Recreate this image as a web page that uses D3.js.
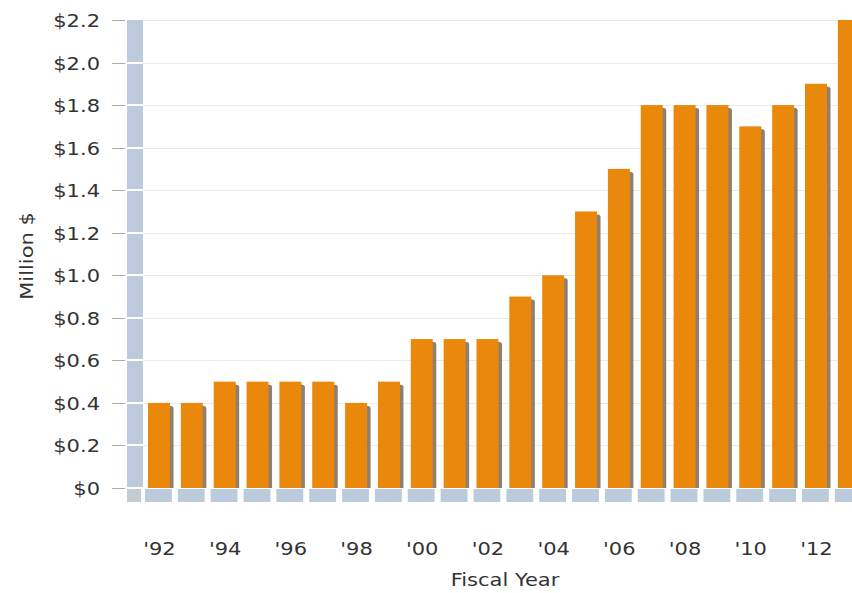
<!DOCTYPE html>
<html>
<head>
<meta charset="utf-8">
<script src="https://cdn.jsdelivr.net/npm/d3@7"></script>
<style>
  html, body { margin: 0; padding: 0; background: #fff; }
  svg { display: block; }
  text { font-family: "DejaVu Sans", Verdana, sans-serif; fill: #333; }
</style>
</head>
<body>
<svg id="chart" width="852" height="593"></svg>
<script>
const years = ["92","93","94","95","96","97","98","99","00","01","02","03","04","05","06","07","08","09","10","11","12","13"];
const values = [0.4,0.4,0.5,0.5,0.5,0.5,0.4,0.5,0.7,0.7,0.7,0.9,1.0,1.3,1.5,1.8,1.8,1.8,1.7,1.8,1.9,2.2];
const yTicks = [0,0.2,0.4,0.6,0.8,1.0,1.2,1.4,1.6,1.8,2.0,2.2];
const xTickYears = ["92","94","96","98","00","02","04","06","08","10","12"];
const yTitle = "Million $";
const xTitle = "Fiscal Year";

const W = 852, H = 593;
const svg = d3.select("#chart");
const plotLeft = 143, plotTop = 20, plotBottom = 488;
const step = 32.85;

const y = d3.scaleLinear().domain([0, 2.2]).range([plotBottom, plotTop]);
const x = d3.scaleBand().domain(years).range([plotLeft, plotLeft + step * years.length]).padding(0);
const bw = x.bandwidth();

const FS = 17.5, SX = 1.2;

// gridlines
svg.append("g").selectAll("line").data(yTicks.filter(d => d > 0)).join("line")
  .attr("x1", plotLeft).attr("x2", W)
  .attr("y1", d => Math.round(y(d)) + 0.5).attr("y2", d => Math.round(y(d)) + 0.5)
  .attr("stroke", "#eaeaea").attr("stroke-width", 1);

// left wall: segments between gridlines
const wallStops = yTicks.slice(0, -1);
svg.append("g").selectAll("rect").data(wallStops).join("rect")
  .attr("x", 127).attr("width", plotLeft - 127)
  .attr("y", (d, i) => Math.round(y(yTicks[i + 1])) + (i === yTicks.length - 2 ? 0 : 1))
  .attr("height", (d, i) => Math.round(y(d)) - Math.round(y(yTicks[i + 1])) - (i === yTicks.length - 2 ? 1 : 2))
  .attr("fill", "#bccadb");

// floor
svg.append("rect").attr("x", 127).attr("y", plotBottom + 1).attr("width", 14).attr("height", 13)
  .attr("fill", "#c3cbd5");
svg.append("g").selectAll("rect").data(years).join("rect")
  .attr("x", d => x(d) + 2).attr("y", plotBottom + 1)
  .attr("width", bw - 6).attr("height", 13)
  .attr("fill", "#bccbdc");

// ticks
svg.append("g").selectAll("line").data(yTicks).join("line")
  .attr("x1", 112).attr("x2", 125)
  .attr("y1", d => Math.round(y(d)) + 0.5).attr("y2", d => Math.round(y(d)) + 0.5)
  .attr("stroke", "#aaaaaa").attr("stroke-width", 1);

// y tick labels
svg.append("g").selectAll("text").data(yTicks).join("text")
  .attr("transform", d => `translate(100,${y(d) + 7}) scale(${SX},1)`)
  .attr("text-anchor", "end")
  .style("font-size", FS + "px")
  .text(d => "$" + (d === 0 ? "0" : d.toFixed(1)));

// bars
svg.append("defs").append("clipPath").attr("id", "clip")
  .append("rect").attr("x", 0).attr("y", 0).attr("width", W).attr("height", plotBottom);
const barsG = svg.append("g").attr("clip-path", "url(#clip)");
const barOff = 5, barW = 22;
barsG.selectAll("rect.shadow").data(years).join("rect").attr("class", "shadow")
  .attr("x", d => x(d) + barOff + 3.5)
  .attr("y", (d, i) => y(values[i]) + 3)
  .attr("width", barW)
  .attr("height", (d, i) => plotBottom - y(values[i]))
  .attr("rx", 2.5)
  .attr("fill", "#7a6a58").attr("opacity", 0.85);
barsG.selectAll("rect.bar").data(years).join("rect").attr("class", "bar")
  .attr("x", d => x(d) + barOff)
  .attr("y", (d, i) => y(values[i]))
  .attr("width", barW)
  .attr("height", (d, i) => plotBottom - y(values[i]))
  .attr("fill", "#e9880b");

// x labels
svg.append("g").selectAll("text").data(xTickYears).join("text")
  .attr("transform", d => `translate(${x(d) + bw / 2},555) scale(${SX},1)`)
  .attr("text-anchor", "middle")
  .style("font-size", FS + "px")
  .text(d => "'" + d);

// axis titles
svg.append("text")
  .attr("transform", `translate(505,586) scale(${SX},1)`)
  .attr("text-anchor", "middle")
  .style("font-size", FS + "px")
  .text(xTitle);
svg.append("text")
  .attr("transform", `translate(33,256) rotate(-90) scale(${SX},1)`)
  .attr("text-anchor", "middle")
  .style("font-size", FS + "px")
  .text(yTitle);
</script>
</body>
</html>
